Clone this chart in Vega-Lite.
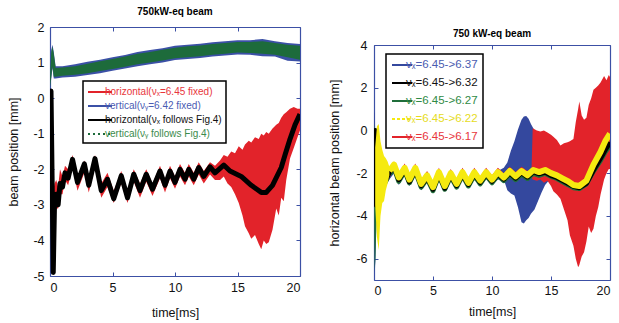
{
"$schema": "https://vega.github.io/schema/vega-lite/v6.json",
"background": "white",
"padding": {"left": 7, "top": 7, "right": 2, "bottom": 2},
"spacing": 27,
"config": {
  "font": "Liberation Sans",
  "view": {"stroke": null},
  "axis": {"grid": false, "domain": true, "domainColor": "#3c50a5", "domainWidth": 1.2, "tickColor": "#3c50a5", "tickSize": -4, "tickWidth": 1, "labelFontSize": 12.5, "labelColor": "#111111", "titleFontSize": 12.5, "titleFontWeight": "normal", "titleColor": "#111111", "labelFont": "Liberation Sans", "titleFont": "Liberation Sans"},
  "title": {"fontSize": 10, "fontWeight": "bold", "font": "Liberation Sans", "anchor": "middle", "frame": "group", "color": "#000000"}
},
"datasets": {
  "LB": [
    {"s":"Lb","t":0.0,"lo":0.25,"hi":0.65},{"s":"Lb","t":0.1,"lo":0.55,"hi":1.35},{"s":"Lb","t":0.2,"lo":0.85,"hi":1.5},{"s":"Lb","t":0.3,"lo":0.55,"hi":1.3},{"s":"Lb","t":0.45,"lo":0.55,"hi":0.9},{"s":"Lb","t":1.0,"lo":0.58,"hi":0.9},{"s":"Lb","t":2.0,"lo":0.6,"hi":0.95},{"s":"Lb","t":3.0,"lo":0.65,"hi":1.02},{"s":"Lb","t":4.0,"lo":0.7,"hi":1.08},{"s":"Lb","t":5.0,"lo":0.77,"hi":1.15},{"s":"Lb","t":6.0,"lo":0.83,"hi":1.21},{"s":"Lb","t":7.0,"lo":0.9,"hi":1.3},{"s":"Lb","t":8.0,"lo":0.95,"hi":1.35},{"s":"Lb","t":9.0,"lo":1.0,"hi":1.4},{"s":"Lb","t":10.0,"lo":1.07,"hi":1.47},{"s":"Lb","t":11.0,"lo":1.1,"hi":1.5},{"s":"Lb","t":12.0,"lo":1.13,"hi":1.53},{"s":"Lb","t":13.0,"lo":1.17,"hi":1.57},{"s":"Lb","t":14.0,"lo":1.2,"hi":1.6},{"s":"Lb","t":15.0,"lo":1.23,"hi":1.63},{"s":"Lb","t":16.0,"lo":1.22,"hi":1.63},{"s":"Lb","t":17.0,"lo":1.18,"hi":1.66},{"s":"Lb","t":18.0,"lo":1.17,"hi":1.6},{"s":"Lb","t":19.0,"lo":1.05,"hi":1.55},{"s":"Lb","t":20.0,"lo":1.03,"hi":1.52},
    {"s":"Lg","t":0.0,"lo":0.3,"hi":0.6},{"s":"Lg","t":0.1,"lo":0.6,"hi":1.3},{"s":"Lg","t":0.2,"lo":0.9,"hi":1.45},{"s":"Lg","t":0.3,"lo":0.6,"hi":1.25},{"s":"Lg","t":0.45,"lo":0.6,"hi":0.85},{"s":"Lg","t":1.0,"lo":0.63,"hi":0.86},{"s":"Lg","t":2.0,"lo":0.66,"hi":0.9},{"s":"Lg","t":3.0,"lo":0.7,"hi":0.97},{"s":"Lg","t":4.0,"lo":0.76,"hi":1.04},{"s":"Lg","t":5.0,"lo":0.82,"hi":1.1},{"s":"Lg","t":6.0,"lo":0.88,"hi":1.17},{"s":"Lg","t":7.0,"lo":0.95,"hi":1.25},{"s":"Lg","t":8.0,"lo":1.0,"hi":1.3},{"s":"Lg","t":9.0,"lo":1.06,"hi":1.36},{"s":"Lg","t":10.0,"lo":1.12,"hi":1.42},{"s":"Lg","t":11.0,"lo":1.15,"hi":1.46},{"s":"Lg","t":12.0,"lo":1.18,"hi":1.48},{"s":"Lg","t":13.0,"lo":1.22,"hi":1.52},{"s":"Lg","t":14.0,"lo":1.25,"hi":1.55},{"s":"Lg","t":15.0,"lo":1.28,"hi":1.58},{"s":"Lg","t":16.0,"lo":1.27,"hi":1.58},{"s":"Lg","t":17.0,"lo":1.25,"hi":1.6},{"s":"Lg","t":18.0,"lo":1.22,"hi":1.55},{"s":"Lg","t":19.0,"lo":1.15,"hi":1.5},{"s":"Lg","t":20.0,"lo":1.08,"hi":1.47},
    {"s":"Lr","t":0.0,"lo":-2.2,"hi":-1.8},{"s":"Lr","t":0.08,"lo":-1.0,"hi":0.3},{"s":"Lr","t":0.18,"lo":-3.3,"hi":-1.2},{"s":"Lr","t":0.26,"lo":-4.9,"hi":-2.6},{"s":"Lr","t":0.36,"lo":-3.2,"hi":-2.4},{"s":"Lr","t":0.5,"lo":-3.1,"hi":-2.3},{"s":"Lr","t":0.65,"lo":-3.1,"hi":-2.5},{"s":"Lr","t":0.8,"lo":-2.7,"hi":-2.0},{"s":"Lr","t":1.0,"lo":-2.7,"hi":-2.2},{"s":"Lr","t":1.2,"lo":-2.3,"hi":-1.9},{"s":"Lr","t":1.45,"lo":-2.45,"hi":-2.0},{"s":"Lr","t":1.8,"lo":-1.95,"hi":-1.6},{"s":"Lr","t":2.2,"lo":-2.6,"hi":-2.2},{"s":"Lr","t":2.75,"lo":-2.1,"hi":-1.75},{"s":"Lr","t":3.1,"lo":-2.65,"hi":-2.3},{"s":"Lr","t":3.6,"lo":-1.95,"hi":-1.6},{"s":"Lr","t":4.1,"lo":-2.8,"hi":-2.4},{"s":"Lr","t":4.6,"lo":-2.5,"hi":-2.1},{"s":"Lr","t":5.1,"lo":-2.95,"hi":-2.6},{"s":"Lr","t":5.7,"lo":-2.4,"hi":-2.05},{"s":"Lr","t":6.2,"lo":-2.95,"hi":-2.6},{"s":"Lr","t":6.7,"lo":-2.35,"hi":-2.0},{"s":"Lr","t":7.2,"lo":-2.8,"hi":-2.4},{"s":"Lr","t":7.7,"lo":-2.35,"hi":-2.0},{"s":"Lr","t":8.2,"lo":-2.75,"hi":-2.4},{"s":"Lr","t":8.8,"lo":-2.25,"hi":-1.9},{"s":"Lr","t":9.2,"lo":-2.65,"hi":-2.3},{"s":"Lr","t":9.6,"lo":-2.25,"hi":-1.9},{"s":"Lr","t":10.0,"lo":-2.55,"hi":-2.2},{"s":"Lr","t":10.4,"lo":-2.2,"hi":-1.85},{"s":"Lr","t":10.8,"lo":-2.45,"hi":-2.1},{"s":"Lr","t":11.1,"lo":-2.2,"hi":-1.85},{"s":"Lr","t":11.5,"lo":-2.45,"hi":-2.1},{"s":"Lr","t":11.9,"lo":-2.15,"hi":-1.8},{"s":"Lr","t":12.3,"lo":-2.4,"hi":-2.05},{"s":"Lr","t":12.8,"lo":-2.15,"hi":-1.8},{"s":"Lr","t":13.2,"lo":-2.3,"hi":-1.9},{"s":"Lr","t":13.6,"lo":-2.3,"hi":-1.75},{"s":"Lr","t":13.9,"lo":-2.2,"hi":-1.6},{"s":"Lr","t":14.2,"lo":-2.4,"hi":-1.65},{"s":"Lr","t":14.5,"lo":-2.5,"hi":-1.5},{"s":"Lr","t":14.8,"lo":-2.7,"hi":-1.55},{"s":"Lr","t":15.1,"lo":-2.95,"hi":-1.35},{"s":"Lr","t":15.4,"lo":-3.3,"hi":-1.45},{"s":"Lr","t":15.6,"lo":-3.6,"hi":-1.3},{"s":"Lr","t":15.9,"lo":-3.8,"hi":-1.2},{"s":"Lr","t":16.1,"lo":-3.95,"hi":-1.25},{"s":"Lr","t":16.4,"lo":-3.85,"hi":-1.1},{"s":"Lr","t":16.7,"lo":-4.1,"hi":-1.15},{"s":"Lr","t":16.9,"lo":-4.25,"hi":-1.0},{"s":"Lr","t":17.1,"lo":-4.0,"hi":-1.05},{"s":"Lr","t":17.3,"lo":-4.1,"hi":-0.95},{"s":"Lr","t":17.5,"lo":-4.05,"hi":-1.0},{"s":"Lr","t":17.8,"lo":-3.7,"hi":-0.85},{"s":"Lr","t":18.1,"lo":-3.1,"hi":-0.75},{"s":"Lr","t":18.3,"lo":-3.3,"hi":-0.7},{"s":"Lr","t":18.5,"lo":-2.8,"hi":-0.55},{"s":"Lr","t":18.7,"lo":-2.9,"hi":-0.45},{"s":"Lr","t":18.9,"lo":-2.3,"hi":-0.4},{"s":"Lr","t":19.2,"lo":-1.7,"hi":-0.3},{"s":"Lr","t":19.5,"lo":-1.4,"hi":-0.25},{"s":"Lr","t":19.8,"lo":-1.1,"hi":-0.3},{"s":"Lr","t":20.0,"lo":-0.9,"hi":-0.3}
  ],
  "LL": [
    {"s":"Lk","t":0.0,"y":-2.0},{"s":"Lk","t":0.08,"y":0.2},{"s":"Lk","t":0.18,"y":-2.6},{"s":"Lk","t":0.26,"y":-4.9},{"s":"Lk","t":0.36,"y":-3.0},{"s":"Lk","t":0.5,"y":-2.7},{"s":"Lk","t":0.65,"y":-3.0},{"s":"Lk","t":0.8,"y":-2.4},{"s":"Lk","t":1.0,"y":-2.5},{"s":"Lk","t":1.2,"y":-2.1},{"s":"Lk","t":1.45,"y":-2.25},{"s":"Lk","t":1.8,"y":-1.72},{"s":"Lk","t":2.2,"y":-2.37},{"s":"Lk","t":2.75,"y":-1.85},{"s":"Lk","t":3.1,"y":-2.45},{"s":"Lk","t":3.6,"y":-1.7},{"s":"Lk","t":4.1,"y":-2.6},{"s":"Lk","t":4.6,"y":-2.28},{"s":"Lk","t":5.1,"y":-2.83},{"s":"Lk","t":5.7,"y":-2.18},{"s":"Lk","t":6.2,"y":-2.8},{"s":"Lk","t":6.7,"y":-2.14},{"s":"Lk","t":7.2,"y":-2.6},{"s":"Lk","t":7.7,"y":-2.14},{"s":"Lk","t":8.2,"y":-2.56},{"s":"Lk","t":8.8,"y":-2.05},{"s":"Lk","t":9.2,"y":-2.45},{"s":"Lk","t":9.6,"y":-2.05},{"s":"Lk","t":10.0,"y":-2.37},{"s":"Lk","t":10.4,"y":-2.0},{"s":"Lk","t":10.8,"y":-2.28},{"s":"Lk","t":11.1,"y":-2.0},{"s":"Lk","t":11.5,"y":-2.28},{"s":"Lk","t":11.9,"y":-1.95},{"s":"Lk","t":12.3,"y":-2.2},{"s":"Lk","t":12.8,"y":-1.93},{"s":"Lk","t":13.2,"y":-2.1},{"s":"Lk","t":13.9,"y":-1.88},{"s":"Lk","t":14.4,"y":-2.05},{"s":"Lk","t":15.3,"y":-2.2},{"s":"Lk","t":16.1,"y":-2.45},{"s":"Lk","t":16.9,"y":-2.65},{"s":"Lk","t":17.3,"y":-2.65},{"s":"Lk","t":17.8,"y":-2.45},{"s":"Lk","t":18.5,"y":-1.95},{"s":"Lk","t":18.8,"y":-1.6},{"s":"Lk","t":19.2,"y":-1.15},{"s":"Lk","t":19.6,"y":-0.75},{"s":"Lk","t":20.0,"y":-0.45}
  ],
  "RB": [
    {"s":"Rb","t":0.0,"lo":-1.5,"hi":0.8},{"s":"Rb","t":0.05,"lo":-6.9,"hi":0.85},{"s":"Rb","t":0.12,"lo":-6.0,"hi":-0.3},{"s":"Rb","t":0.2,"lo":-4.2,"hi":-1.2},{"s":"Rb","t":0.35,"lo":-3.3,"hi":-1.6},{"s":"Rb","t":0.5,"lo":-3.0,"hi":-1.8},{"s":"Rb","t":0.7,"lo":-2.8,"hi":-1.9},{"s":"Rb","t":1.0,"lo":-2.6,"hi":-2.0},{"s":"Rb","t":1.3,"lo":-2.3,"hi":-1.85},{"s":"Rb","t":1.7,"lo":-2.0,"hi":-1.6},{"s":"Rb","t":2.1,"lo":-2.55,"hi":-2.15},{"s":"Rb","t":2.6,"lo":-2.1,"hi":-1.75},{"s":"Rb","t":3.0,"lo":-2.6,"hi":-2.2},{"s":"Rb","t":3.5,"lo":-2.1,"hi":-1.7},{"s":"Rb","t":4.0,"lo":-2.8,"hi":-2.4},{"s":"Rb","t":4.5,"lo":-2.4,"hi":-2.05},{"s":"Rb","t":5.0,"lo":-2.9,"hi":-2.5},{"s":"Rb","t":5.5,"lo":-2.25,"hi":-1.95},{"s":"Rb","t":6.0,"lo":-2.85,"hi":-2.5},{"s":"Rb","t":6.5,"lo":-2.3,"hi":-1.95},{"s":"Rb","t":7.0,"lo":-2.75,"hi":-2.4},{"s":"Rb","t":7.5,"lo":-2.25,"hi":-1.9},{"s":"Rb","t":8.0,"lo":-2.7,"hi":-2.35},{"s":"Rb","t":8.5,"lo":-2.25,"hi":-1.9},{"s":"Rb","t":9.0,"lo":-2.6,"hi":-2.25},{"s":"Rb","t":9.5,"lo":-2.25,"hi":-1.9},{"s":"Rb","t":10.0,"lo":-2.55,"hi":-2.2},{"s":"Rb","t":10.5,"lo":-2.3,"hi":-1.9},{"s":"Rb","t":11.0,"lo":-2.3,"hi":-1.75},{"s":"Rb","t":11.3,"lo":-2.8,"hi":-1.5},{"s":"Rb","t":11.6,"lo":-2.95,"hi":-0.95},{"s":"Rb","t":11.9,"lo":-3.05,"hi":-0.5},{"s":"Rb","t":12.2,"lo":-3.6,"hi":0.05},{"s":"Rb","t":12.5,"lo":-4.3,"hi":0.5},{"s":"Rb","t":12.7,"lo":-4.35,"hi":0.65},{"s":"Rb","t":12.9,"lo":-4.2,"hi":0.68},{"s":"Rb","t":13.1,"lo":-4.1,"hi":0.55},{"s":"Rb","t":13.3,"lo":-3.9,"hi":0.3},{"s":"Rb","t":13.6,"lo":-3.7,"hi":0.0},{"s":"Rb","t":13.9,"lo":-3.3,"hi":-0.5},{"s":"Rb","t":14.2,"lo":-2.9,"hi":-1.0},{"s":"Rb","t":14.5,"lo":-2.55,"hi":-1.4},{"s":"Rb","t":14.8,"lo":-2.35,"hi":-1.7},{"s":"Rb","t":15.2,"lo":-2.3,"hi":-1.8},{"s":"Rb","t":16.0,"lo":-2.5,"hi":-2.1},{"s":"Rb","t":17.0,"lo":-2.8,"hi":-2.4},{"s":"Rb","t":18.0,"lo":-2.6,"hi":-2.2},{"s":"Rb","t":19.0,"lo":-1.7,"hi":-1.2},{"s":"Rb","t":20.0,"lo":-0.8,"hi":-0.3},
    {"s":"Rr","t":0.0,"lo":-2.2,"hi":-1.8},{"s":"Rr","t":0.1,"lo":-2.8,"hi":-1.0},{"s":"Rr","t":0.3,"lo":-3.0,"hi":-1.6},{"s":"Rr","t":0.6,"lo":-2.7,"hi":-1.8},{"s":"Rr","t":1.0,"lo":-2.5,"hi":-1.9},{"s":"Rr","t":1.3,"lo":-2.2,"hi":-1.75},{"s":"Rr","t":1.7,"lo":-1.85,"hi":-1.45},{"s":"Rr","t":2.1,"lo":-2.4,"hi":-2.0},{"s":"Rr","t":2.6,"lo":-1.95,"hi":-1.55},{"s":"Rr","t":3.0,"lo":-2.45,"hi":-2.05},{"s":"Rr","t":3.5,"lo":-1.95,"hi":-1.55},{"s":"Rr","t":4.0,"lo":-2.65,"hi":-2.3},{"s":"Rr","t":4.5,"lo":-2.3,"hi":-1.9},{"s":"Rr","t":5.0,"lo":-2.8,"hi":-2.45},{"s":"Rr","t":5.5,"lo":-2.15,"hi":-1.75},{"s":"Rr","t":6.0,"lo":-2.75,"hi":-2.4},{"s":"Rr","t":6.5,"lo":-2.2,"hi":-1.8},{"s":"Rr","t":7.0,"lo":-2.65,"hi":-2.3},{"s":"Rr","t":7.5,"lo":-2.15,"hi":-1.75},{"s":"Rr","t":8.0,"lo":-2.6,"hi":-2.25},{"s":"Rr","t":8.5,"lo":-2.15,"hi":-1.75},{"s":"Rr","t":9.0,"lo":-2.5,"hi":-2.15},{"s":"Rr","t":9.5,"lo":-2.15,"hi":-1.75},{"s":"Rr","t":10.0,"lo":-2.45,"hi":-2.1},{"s":"Rr","t":10.5,"lo":-2.15,"hi":-1.75},{"s":"Rr","t":11.0,"lo":-2.35,"hi":-2.0},{"s":"Rr","t":11.5,"lo":-2.1,"hi":-1.7},{"s":"Rr","t":12.0,"lo":-2.3,"hi":-1.95},{"s":"Rr","t":12.5,"lo":-2.1,"hi":-1.7},{"s":"Rr","t":13.0,"lo":-2.25,"hi":-1.9},{"s":"Rr","t":13.35,"lo":-2.2,"hi":-1.8},{"s":"Rr","t":13.45,"lo":-2.3,"hi":0.1},{"s":"Rr","t":13.8,"lo":-2.35,"hi":0.0},{"s":"Rr","t":14.1,"lo":-2.3,"hi":-0.05},{"s":"Rr","t":14.4,"lo":-2.45,"hi":0.0},{"s":"Rr","t":14.7,"lo":-2.35,"hi":-0.1},{"s":"Rr","t":15.0,"lo":-2.6,"hi":-0.2},{"s":"Rr","t":15.2,"lo":-2.85,"hi":-0.3},{"s":"Rr","t":15.5,"lo":-3.0,"hi":-0.45},{"s":"Rr","t":15.8,"lo":-3.2,"hi":-0.7},{"s":"Rr","t":16.1,"lo":-3.7,"hi":-0.6},{"s":"Rr","t":16.4,"lo":-4.2,"hi":-0.55},{"s":"Rr","t":16.6,"lo":-4.9,"hi":-0.5},{"s":"Rr","t":16.9,"lo":-5.4,"hi":-0.4},{"s":"Rr","t":17.1,"lo":-6.0,"hi":0.4},{"s":"Rr","t":17.3,"lo":-6.4,"hi":1.0},{"s":"Rr","t":17.4,"lo":-6.3,"hi":1.35},{"s":"Rr","t":17.6,"lo":-5.9,"hi":0.7},{"s":"Rr","t":17.8,"lo":-5.7,"hi":0.5},{"s":"Rr","t":18.0,"lo":-5.2,"hi":0.6},{"s":"Rr","t":18.2,"lo":-4.5,"hi":1.2},{"s":"Rr","t":18.4,"lo":-4.8,"hi":1.5},{"s":"Rr","t":18.6,"lo":-4.6,"hi":1.9},{"s":"Rr","t":18.8,"lo":-4.0,"hi":2.0},{"s":"Rr","t":19.0,"lo":-3.6,"hi":2.1},{"s":"Rr","t":19.2,"lo":-3.0,"hi":2.25},{"s":"Rr","t":19.5,"lo":-2.3,"hi":2.55},{"s":"Rr","t":19.7,"lo":-2.0,"hi":2.35},{"s":"Rr","t":19.9,"lo":-1.8,"hi":2.6},{"s":"Rr","t":20.0,"lo":-1.8,"hi":2.5},
    {"s":"Rg","t":0.0,"lo":-2.2,"hi":-1.8},{"s":"Rg","t":0.05,"lo":-6.6,"hi":0.3},{"s":"Rg","t":0.12,"lo":-6.0,"hi":-0.2},{"s":"Rg","t":0.2,"lo":-4.5,"hi":-1.0},{"s":"Rg","t":0.35,"lo":-3.5,"hi":-1.5},{"s":"Rg","t":0.5,"lo":-3.0,"hi":-1.8},{"s":"Rg","t":0.7,"lo":-2.7,"hi":-1.9},{"s":"Rg","t":1.0,"lo":-2.6,"hi":-2.0},{"s":"Rg","t":1.3,"lo":-2.3,"hi":-1.8},
    {"s":"Ry","t":0.1,"lo":-3.5,"hi":-0.8},{"s":"Ry","t":0.25,"lo":-5.0,"hi":0.2},{"s":"Ry","t":0.4,"lo":-5.6,"hi":0.3},{"s":"Ry","t":0.55,"lo":-4.0,"hi":-0.5},{"s":"Ry","t":0.7,"lo":-3.4,"hi":-0.9},{"s":"Ry","t":0.85,"lo":-3.3,"hi":-1.2},{"s":"Ry","t":1.0,"lo":-2.8,"hi":-1.3},{"s":"Ry","t":1.15,"lo":-2.5,"hi":-1.45},{"s":"Ry","t":1.3,"lo":-2.1,"hi":-1.7}
  ],
  "RL": [
    {"s":"Rk","t":0.05,"y":-2.0},{"s":"Rk","t":0.12,"y":0.0},{"s":"Rk","t":0.2,"y":-3.5},{"s":"Rk","t":0.3,"y":-2.4},{"s":"Rk","t":0.5,"y":-2.8},{"s":"Rk","t":0.7,"y":-2.2},{"s":"Rk","t":1.0,"y":-2.3},{"s":"Rk","t":1.3,"y":-1.95},{"s":"Rk","t":1.7,"y":-1.68},{"s":"Rk","t":2.1,"y":-2.3},{"s":"Rk","t":2.6,"y":-1.83},{"s":"Rk","t":3.0,"y":-2.4},{"s":"Rk","t":3.5,"y":-1.83},{"s":"Rk","t":4.0,"y":-2.58},{"s":"Rk","t":4.5,"y":-2.18},{"s":"Rk","t":5.0,"y":-2.75},{"s":"Rk","t":5.5,"y":-2.03},{"s":"Rk","t":6.0,"y":-2.7},{"s":"Rk","t":6.5,"y":-2.08},{"s":"Rk","t":7.0,"y":-2.58},{"s":"Rk","t":7.5,"y":-2.03},{"s":"Rk","t":8.0,"y":-2.53},{"s":"Rk","t":8.5,"y":-2.03},{"s":"Rk","t":9.0,"y":-2.43},{"s":"Rk","t":9.5,"y":-2.03},{"s":"Rk","t":10.0,"y":-2.38},{"s":"Rk","t":10.5,"y":-2.03},{"s":"Rk","t":11.0,"y":-2.28},{"s":"Rk","t":11.5,"y":-1.98},{"s":"Rk","t":12.0,"y":-2.23},{"s":"Rk","t":12.5,"y":-1.98},{"s":"Rk","t":13.0,"y":-2.18},{"s":"Rk","t":13.5,"y":-1.93},{"s":"Rk","t":14.0,"y":-2.03},{"s":"Rk","t":14.5,"y":-1.95},{"s":"Rk","t":15.0,"y":-2.1},{"s":"Rk","t":15.5,"y":-2.2},{"s":"Rk","t":16.0,"y":-2.35},{"s":"Rk","t":16.5,"y":-2.5},{"s":"Rk","t":16.9,"y":-2.62},{"s":"Rk","t":17.4,"y":-2.68},{"s":"Rk","t":18.0,"y":-2.48},{"s":"Rk","t":18.6,"y":-1.85},{"s":"Rk","t":19.2,"y":-1.3},{"s":"Rk","t":19.6,"y":-0.9},{"s":"Rk","t":20.0,"y":-0.55},
    {"s":"Rg","t":1.3,"y":-2.05},{"s":"Rg","t":1.7,"y":-1.75},{"s":"Rg","t":2.1,"y":-2.38},{"s":"Rg","t":2.6,"y":-1.9},{"s":"Rg","t":3.0,"y":-2.45},{"s":"Rg","t":3.5,"y":-1.9},{"s":"Rg","t":4.0,"y":-2.65},{"s":"Rg","t":4.5,"y":-2.25},{"s":"Rg","t":5.0,"y":-2.82},{"s":"Rg","t":5.5,"y":-2.1},{"s":"Rg","t":6.0,"y":-2.75},{"s":"Rg","t":6.5,"y":-2.15},{"s":"Rg","t":7.0,"y":-2.65},{"s":"Rg","t":7.5,"y":-2.1},{"s":"Rg","t":8.0,"y":-2.6},{"s":"Rg","t":8.5,"y":-2.1},{"s":"Rg","t":9.0,"y":-2.5},{"s":"Rg","t":9.5,"y":-2.1},{"s":"Rg","t":10.0,"y":-2.45},{"s":"Rg","t":10.5,"y":-2.1},{"s":"Rg","t":11.0,"y":-2.35},{"s":"Rg","t":11.5,"y":-2.05},{"s":"Rg","t":12.0,"y":-2.3},{"s":"Rg","t":12.5,"y":-2.05},{"s":"Rg","t":13.0,"y":-2.25},{"s":"Rg","t":13.5,"y":-2.0},{"s":"Rg","t":14.0,"y":-2.1},{"s":"Rg","t":14.5,"y":-2.0},{"s":"Rg","t":15.0,"y":-2.15},{"s":"Rg","t":15.5,"y":-2.25},{"s":"Rg","t":16.0,"y":-2.4},{"s":"Rg","t":16.5,"y":-2.55},{"s":"Rg","t":16.9,"y":-2.68},{"s":"Rg","t":17.4,"y":-2.72},{"s":"Rg","t":18.0,"y":-2.5},{"s":"Rg","t":18.6,"y":-1.9},{"s":"Rg","t":19.2,"y":-1.4},{"s":"Rg","t":19.6,"y":-1.0},{"s":"Rg","t":20.0,"y":-0.7},
    {"s":"Ry","t":1.3,"y":-1.9},{"s":"Ry","t":1.7,"y":-1.6},{"s":"Ry","t":2.1,"y":-2.2},{"s":"Ry","t":2.6,"y":-1.75},{"s":"Ry","t":3.0,"y":-2.3},{"s":"Ry","t":3.5,"y":-1.75},{"s":"Ry","t":4.0,"y":-2.5},{"s":"Ry","t":4.5,"y":-2.1},{"s":"Ry","t":5.0,"y":-2.65},{"s":"Ry","t":5.5,"y":-1.95},{"s":"Ry","t":6.0,"y":-2.6},{"s":"Ry","t":6.5,"y":-2.0},{"s":"Ry","t":7.0,"y":-2.5},{"s":"Ry","t":7.5,"y":-1.95},{"s":"Ry","t":8.0,"y":-2.45},{"s":"Ry","t":8.5,"y":-1.95},{"s":"Ry","t":9.0,"y":-2.35},{"s":"Ry","t":9.5,"y":-1.95},{"s":"Ry","t":10.0,"y":-2.3},{"s":"Ry","t":10.5,"y":-1.95},{"s":"Ry","t":11.0,"y":-2.2},{"s":"Ry","t":11.5,"y":-1.9},{"s":"Ry","t":12.0,"y":-2.15},{"s":"Ry","t":12.5,"y":-1.9},{"s":"Ry","t":13.0,"y":-2.1},{"s":"Ry","t":13.5,"y":-1.85},{"s":"Ry","t":14.0,"y":-1.95},{"s":"Ry","t":14.5,"y":-1.85},{"s":"Ry","t":15.0,"y":-2.0},{"s":"Ry","t":15.5,"y":-2.1},{"s":"Ry","t":16.0,"y":-2.25},{"s":"Ry","t":16.5,"y":-2.4},{"s":"Ry","t":16.9,"y":-2.55},{"s":"Ry","t":17.4,"y":-2.6},{"s":"Ry","t":18.0,"y":-2.35},{"s":"Ry","t":18.6,"y":-1.6},{"s":"Ry","t":19.2,"y":-1.0},{"s":"Ry","t":19.6,"y":-0.5},{"s":"Ry","t":20.0,"y":-0.15}
  ]
},
"hconcat": [
  {
    "width": 250, "height": 249,
    "title": {"text": "750kW-eq beam", "offset": 4},
    "encoding": {"color": {"field": "s", "type": "nominal",
      "scale": {"domain": ["Lr","Lb","Lk","Lg"], "range": ["#e2232a","#3b50a6","#000000","#1d6b3b"]},
      "legend": {"orient": "none", "legendX": 33, "legendY": 54, "title": null, "direction": "vertical",
        "strokeColor": "#000000", "fillColor": "white", "padding": 4,
        "symbolType": "M-1,0H3", "symbolSize": 144, "symbolStrokeWidth": 2, "symbolOpacity": 1,
        "labelFontSize": 10, "labelFont": "Liberation Sans", "labelOffset": 4, "rowPadding": 2, "labelLimit": 200,
        "labelExpr": "datum.value == 'Lr' ? 'horizontal(νₓ=6.45 fixed)' : datum.value == 'Lb' ? 'vertical(νᵧ=6.42 fixed)' : datum.value == 'Lk' ? 'horizontal(νₓ follows Fig.4)' : 'vertical(νᵧ follows Fig.4)'",
        "encode": {
          "legend": {"update": {"strokeWidth": {"value": 1.5}}},
          "symbols": {"update": {"fill": {"value": "transparent"},
            "stroke": {"signal": "datum.value == 'Lr' ? '#e2232a' : datum.value == 'Lb' ? '#3b50a6' : datum.value == 'Lk' ? '#000000' : '#1d6b3b'"},
            "strokeDash": {"signal": "datum.value == 'Lg' ? [2,3] : [1,0]"}}},
          "labels": {"update": {"fill": {"signal": "datum.value == 'Lr' ? '#e8363c' : datum.value == 'Lb' ? '#4b5cb3' : datum.value == 'Lk' ? '#111111' : '#3b8b4c'"}}}
        }}}},
    "layer": [
      {"data": {"name": "LB"}, "transform": [{"filter": "datum.s == 'Lb'"}],
       "mark": {"type": "area", "opacity": 1, "clip": true},
       "encoding": {
         "x": {"field": "t", "type": "quantitative", "scale": {"domain": [0, 20], "nice": false, "zero": false},
               "axis": {"orient": "bottom", "values": [0,5,10,15,20], "title": "time[ms]", "labelPadding": 9, "titlePadding": 13}},
         "y": {"field": "lo", "type": "quantitative", "scale": {"domain": [-5, 2], "nice": false, "zero": false},
               "axis": {"orient": "left", "values": [-5,-4,-3,-2,-1,0,1,2], "labelExpr": "'' + datum.value", "title": "beam position [mm]", "labelPadding": 10, "titlePadding": 12}},
         "y2": {"field": "hi"}}},
      {"data": {"name": "LB"}, "transform": [{"filter": "datum.s == 'Lg'"}],
       "mark": {"type": "area", "opacity": 1, "clip": true},
       "encoding": {
         "x": {"field": "t", "type": "quantitative", "scale": {"domain": [0, 20], "nice": false, "zero": false},
               "axis": {"orient": "top", "values": [0,5,10,15,20], "labels": false, "title": null}},
         "y": {"field": "lo", "type": "quantitative", "scale": {"domain": [-5, 2], "nice": false, "zero": false},
               "axis": {"orient": "right", "values": [-5,-4,-3,-2,-1,0,1,2], "labels": false, "title": null}},
         "y2": {"field": "hi"}}},
      {"data": {"name": "LB"}, "transform": [{"filter": "datum.s == 'Lr'"}],
       "mark": {"type": "area", "opacity": 1, "clip": true},
       "encoding": {
         "x": {"field": "t", "type": "quantitative", "scale": {"domain": [0, 20], "nice": false, "zero": false}, "axis": null},
         "y": {"field": "lo", "type": "quantitative", "scale": {"domain": [-5, 2], "nice": false, "zero": false}, "axis": null},
         "y2": {"field": "hi"}}},
      {"data": {"name": "LL"}, "transform": [{"filter": "datum.s == 'Lk'"}],
       "mark": {"type": "line", "strokeWidth": 5, "opacity": 1, "clip": true, "strokeJoin": "round"},
       "encoding": {
         "x": {"field": "t", "type": "quantitative", "scale": {"domain": [0, 20], "nice": false, "zero": false}, "axis": null},
         "y": {"field": "y", "type": "quantitative", "scale": {"domain": [-5, 2], "nice": false, "zero": false}, "axis": null}}}
    ],
    "resolve": {"axis": {"x": "independent", "y": "independent"}}
  },
  {
    "width": 236, "height": 253,
    "title": {"text": "750 kW-eq beam", "offset": -12},
    "encoding": {"color": {"field": "s", "type": "nominal",
      "scale": {"domain": ["Rb","Rk","Rg","Ry","Rr"], "range": ["#34489e","#000000","#1f6e3a","#f5ea10","#e2232a"]},
      "legend": {"orient": "none", "legendX": 12, "legendY": 27, "title": null, "direction": "vertical",
        "strokeColor": "#000000", "fillColor": "white", "padding": 5,
        "symbolType": "M-1,0H3", "symbolSize": 100, "symbolStrokeWidth": 2, "symbolOpacity": 1,
        "labelFontSize": 11.5, "labelFont": "Liberation Sans", "labelOffset": 3, "rowPadding": 6, "labelLimit": 200,
        "labelExpr": "datum.value == 'Rb' ? 'νₓ=6.45->6.37' : datum.value == 'Rk' ? 'νₓ=6.45->6.32' : datum.value == 'Rg' ? 'νₓ=6.45->6.27' : datum.value == 'Ry' ? 'νₓ=6.45->6.22' : 'νₓ=6.45->6.17'",
        "encode": {
          "legend": {"update": {"strokeWidth": {"value": 1.5}}},
          "symbols": {"update": {"fill": {"value": "transparent"},
            "stroke": {"signal": "datum.value == 'Rb' ? '#3a4ea5' : datum.value == 'Rk' ? '#000000' : datum.value == 'Rg' ? '#1f6e3a' : datum.value == 'Ry' ? '#f2e21a' : '#e2232a'"},
            "strokeDash": {"signal": "datum.value == 'Ry' ? [3,2] : [1,0]"}}},
          "labels": {"update": {"fill": {"signal": "datum.value == 'Rb' ? '#4a5cb0' : datum.value == 'Rk' ? '#111111' : datum.value == 'Rg' ? '#2f8a45' : datum.value == 'Ry' ? '#e6dc1c' : '#e8363c'"}}}
        }}}},
    "layer": [
      {"data": {"name": "RB"}, "transform": [{"filter": "datum.s == 'Rb'"}],
       "mark": {"type": "area", "opacity": 1, "clip": true},
       "encoding": {
         "x": {"field": "t", "type": "quantitative", "scale": {"domain": [0, 20], "nice": false, "zero": false},
               "axis": {"orient": "bottom", "values": [0,5,10,15,20], "title": "time[ms]", "labelPadding": 8, "titlePadding": 9}},
         "y": {"field": "lo", "type": "quantitative", "scale": {"domain": [-7, 4], "range": [253, 18], "nice": false, "zero": false},
               "axis": {"orient": "left", "values": [-6,-4,-2,0,2,4], "labelExpr": "'' + datum.value", "title": "horizontal beam position [mm]", "labelPadding": 11, "titlePadding": 14}},
         "y2": {"field": "hi"}}},
      {"data": {"name": "RB"}, "transform": [{"filter": "datum.s == 'Rr'"}],
       "mark": {"type": "area", "opacity": 1, "clip": true},
       "encoding": {
         "x": {"field": "t", "type": "quantitative", "scale": {"domain": [0, 20], "nice": false, "zero": false},
               "axis": {"orient": "top", "values": [0,5,10,15,20], "labels": false, "title": null, "offset": -18}},
         "y": {"field": "lo", "type": "quantitative", "scale": {"domain": [-7, 4], "range": [253, 18], "nice": false, "zero": false},
               "axis": {"orient": "right", "values": [-6,-4,-2,0,2,4], "labels": false, "title": null}},
         "y2": {"field": "hi"}}},
      {"data": {"name": "RB"}, "transform": [{"filter": "datum.s == 'Rg'"}],
       "mark": {"type": "area", "opacity": 1, "clip": true},
       "encoding": {
         "x": {"field": "t", "type": "quantitative", "scale": {"domain": [0, 20], "nice": false, "zero": false}, "axis": null},
         "y": {"field": "lo", "type": "quantitative", "scale": {"domain": [-7, 4], "range": [253, 18], "nice": false, "zero": false}, "axis": null},
         "y2": {"field": "hi"}}},
      {"data": {"name": "RL"}, "transform": [{"filter": "datum.s == 'Rg'"}],
       "mark": {"type": "line", "strokeWidth": 5, "opacity": 1, "clip": true, "strokeJoin": "round"},
       "encoding": {
         "x": {"field": "t", "type": "quantitative", "scale": {"domain": [0, 20], "nice": false, "zero": false}, "axis": null},
         "y": {"field": "y", "type": "quantitative", "scale": {"domain": [-7, 4], "range": [253, 18], "nice": false, "zero": false}, "axis": null}}},
      {"data": {"name": "RL"}, "transform": [{"filter": "datum.s == 'Rk'"}],
       "mark": {"type": "line", "strokeWidth": 5, "opacity": 1, "clip": true, "strokeJoin": "round"},
       "encoding": {
         "x": {"field": "t", "type": "quantitative", "scale": {"domain": [0, 20], "nice": false, "zero": false}, "axis": null},
         "y": {"field": "y", "type": "quantitative", "scale": {"domain": [-7, 4], "range": [253, 18], "nice": false, "zero": false}, "axis": null}}},
      {"data": {"name": "RB"}, "transform": [{"filter": "datum.s == 'Ry'"}],
       "mark": {"type": "area", "opacity": 1, "clip": true},
       "encoding": {
         "x": {"field": "t", "type": "quantitative", "scale": {"domain": [0, 20], "nice": false, "zero": false}, "axis": null},
         "y": {"field": "lo", "type": "quantitative", "scale": {"domain": [-7, 4], "range": [253, 18], "nice": false, "zero": false}, "axis": null},
         "y2": {"field": "hi"}}},
      {"data": {"name": "RL"}, "transform": [{"filter": "datum.s == 'Ry'"}],
       "mark": {"type": "line", "strokeWidth": 6, "opacity": 1, "clip": true, "strokeJoin": "round"},
       "encoding": {
         "x": {"field": "t", "type": "quantitative", "scale": {"domain": [0, 20], "nice": false, "zero": false}, "axis": null},
         "y": {"field": "y", "type": "quantitative", "scale": {"domain": [-7, 4], "range": [253, 18], "nice": false, "zero": false}, "axis": null}}}
    ],
    "resolve": {"axis": {"x": "independent", "y": "independent"}}
  }
],
"resolve": {"scale": {"color": "independent"}, "legend": {"color": "independent"}}
}
